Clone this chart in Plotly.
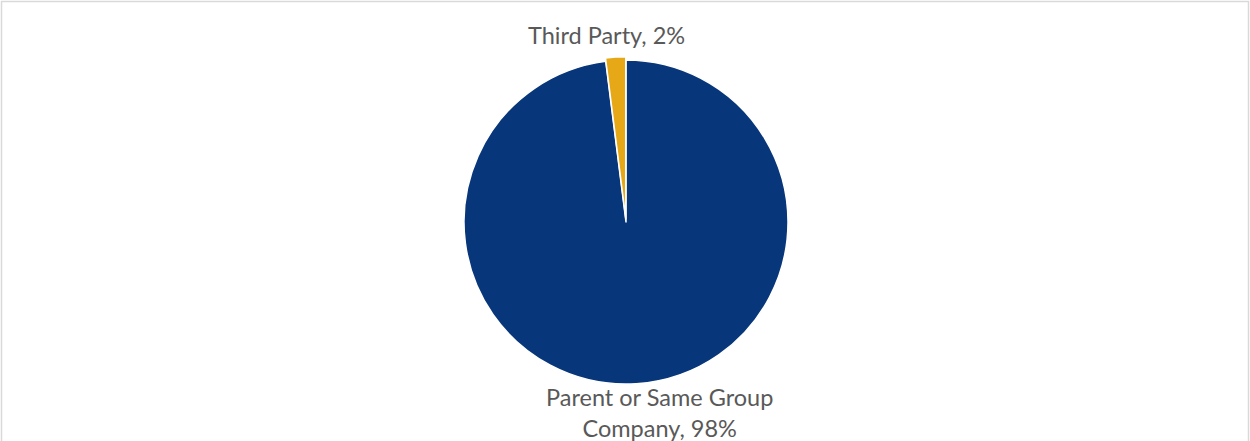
import plotly.graph_objects as go

labels = ["Parent or Same Group Company", "Third Party"]
values = [98, 2]
colors = ["#08367A", "#E6A817"]
pulls = [0, 0.02]

W, H = 1250, 441
cx, cy, r = 626, 222, 162
rr = r * (1 + max(pulls))

fig = go.Figure(go.Pie(
    labels=labels, values=values, sort=False, direction="clockwise", rotation=0,
    marker=dict(colors=colors, line=dict(color="white", width=1.5)),
    pull=pulls, textinfo="none", hoverinfo="label+percent",
    domain=dict(x=[(cx - rr) / W, (cx + rr) / W], y=[1 - (cy + rr) / H, 1 - (cy - rr) / H]),
    showlegend=False,
))

font = dict(family="Lato, Calibri, sans-serif", size=23.5, color="#595959")
fig.add_annotation(x=606 / W, y=1 - 35 / H, xref="paper", yref="paper", text="Third Party, 2%",
                   showarrow=False, font=font, xanchor="center", yanchor="middle")
fig.add_annotation(x=659 / W, y=1 - 412 / H, xref="paper", yref="paper",
                   text="Parent or Same Group<br>Company, 98%", align="center",
                   showarrow=False, font=font, xanchor="center", yanchor="middle")

fig.add_shape(type="rect", xref="paper", yref="paper", x0=1.5 / W, x1=1 - 1.5 / W, y0=-0.1, y1=1 - 1.5 / H,
              line=dict(color="#D9D9D9", width=1.5), fillcolor="rgba(0,0,0,0)")

fig.update_layout(width=W, height=H, margin=dict(l=0, r=0, t=0, b=0),
                  paper_bgcolor="white", plot_bgcolor="white")
fig.write_html("out.html", config={"displayModeBar": False},
               post_script="document.body.style.margin='0';document.body.style.overflow='hidden';")
